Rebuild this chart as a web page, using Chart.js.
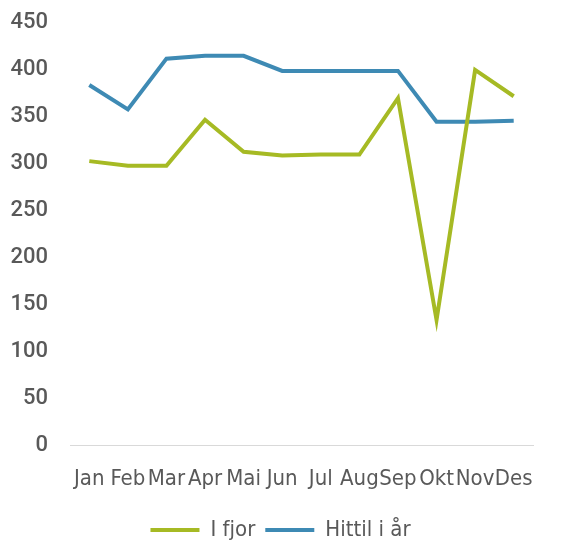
<!DOCTYPE html>
<html>
<head>
<meta charset="utf-8">
<script src="https://cdn.jsdelivr.net/npm/chart.js@4"></script>
<style>
  html,body{margin:0;padding:0;background:#fff;}
  #wrap{width:564px;height:542px;}
</style>
</head>
<body>
<div id="wrap"><canvas id="c"></canvas></div>
<script>
const months = ["Jan","Feb","Mar","Apr","Mai","Jun","Jul","Aug","Sep","Okt","Nov","Des"];
const iFjor = [302, 297, 297, 346, 312, 308, 309, 309, 369, 133, 399, 371];
const hittil = [383, 357, 411, 414, 414, 398, 398, 398, 398, 344, 344, 345];

const narrow = "'Liberation Sans Narrow','DejaVu Sans Condensed','Arial Narrow',sans-serif";
const grey = "#595959";

// nudge the legend to where the original sits (centred on the page, a bit lower)
const legendNudge = {
  id: "legendNudge",
  afterLayout(chart){
    const l = chart.legend;
    l.top += 9; l.bottom += 9;
    l.left += 14; l.right += 14;
  }
};

new Chart(document.getElementById("c"), {
  type: "line",
  data: {
    labels: months,
    datasets: [
      {label: "I fjor", data: iFjor, borderColor: "#a6ba24", backgroundColor: "#a6ba24", borderWidth: 4, pointRadius: 0, tension: 0},
      {label: "Hittil i år", data: hittil, borderColor: "#3e8ab4", backgroundColor: "#3e8ab4", borderWidth: 4, pointRadius: 0, tension: 0}
    ]
  },
  plugins: [legendNudge],
  options: {
    responsive: true,
    maintainAspectRatio: false,
    animation: false,
    layout: {padding: {top: 22, right: 31, left: 0, bottom: 0}},
    plugins: {
      tooltip: {enabled: false},
      legend: {
        position: "bottom",
        labels: {
          color: grey,
          font: {family: narrow, size: 22},
          boxWidth: 49,
          boxHeight: 4,
          padding: 10,
          generateLabels(chart){
            return chart.data.datasets.map((ds, i) => ({
              text: ds.label, fillStyle: ds.borderColor, strokeStyle: ds.borderColor,
              lineWidth: 0, fontColor: grey, datasetIndex: i, hidden: false
            }));
          }
        }
      }
    },
    scales: {
      x: {
        offset: true,
        grid: {display: false},
        border: {display: true, color: "#d9d9d9", width: 1},
        ticks: {color: grey, font: {family: narrow, size: 22}, maxRotation: 0, autoSkip: false, padding: 13},
        afterFit(s){ s.height = 55; }
      },
      y: {
        min: 0, max: 450,
        grid: {display: false, drawTicks: false},
        border: {display: false},
        ticks: {stepSize: 50, color: grey, font: {family: "Roboto,'Liberation Sans',sans-serif", size: 22, weight: 500}, padding: 22},
        afterFit(s){ s.width = 70; s.paddingTop = 0; s.paddingBottom = 0; }
      }
    }
  }
});
</script>
</body>
</html>
